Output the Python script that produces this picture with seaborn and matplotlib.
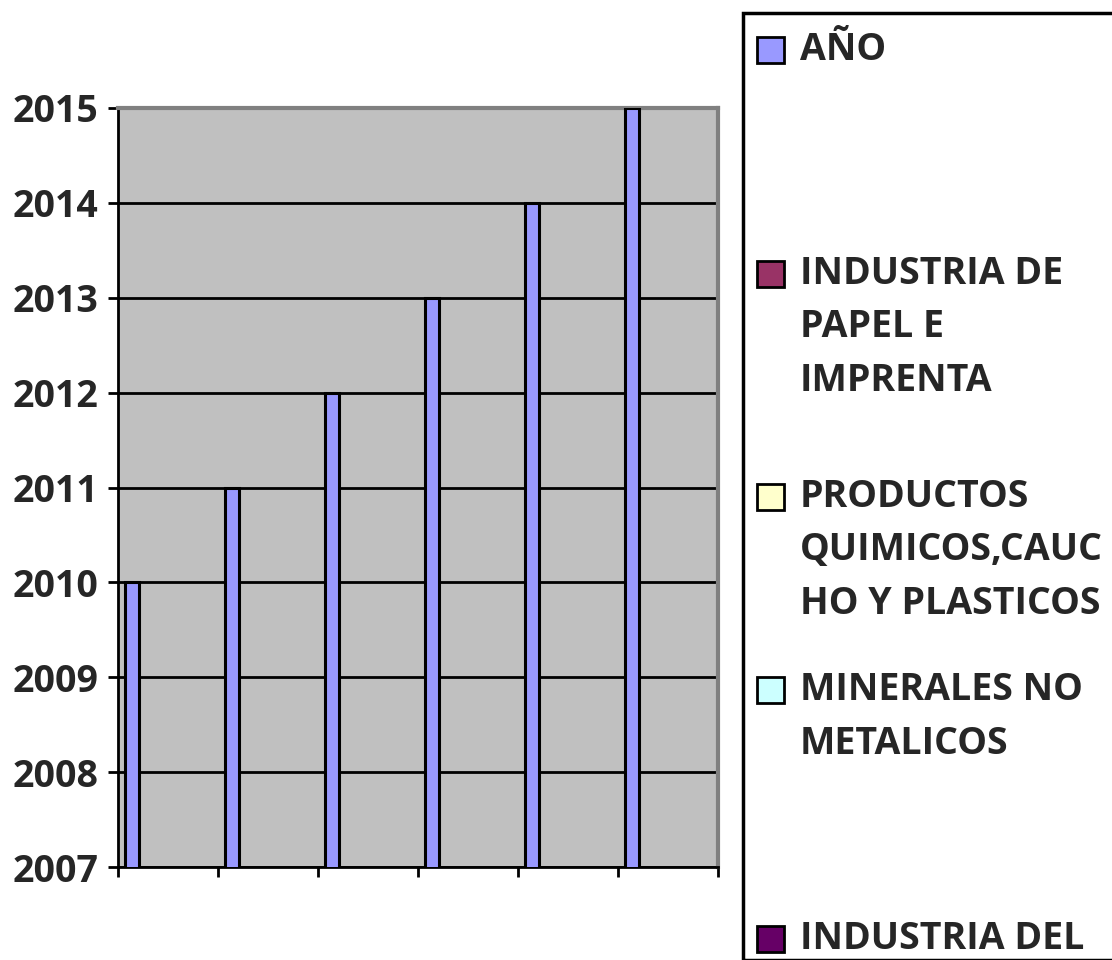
import pandas as pd
import matplotlib.pyplot as plt
import matplotlib.patches as mpatches
import seaborn as sns

# data
grupos = ['1', '2', '3', '4', '5', '6']
ano = [2010, 2011, 2012, 2013, 2014, 2015]
series = ['AÑO', 'INDUSTRIA DE\nPAPEL E\nIMPRENTA', 'PRODUCTOS\nQUIMICOS,CAUC\nHO Y PLASTICOS',
          'MINERALES NO\nMETALICOS', 'INDUSTRIA DEL', 'OTROS']
colores = ['#9999FF', '#993366', '#FFFFCC', '#CCFFFF', '#660066', '#FF8080']
y_ticks = [2007, 2008, 2009, 2010, 2011, 2012, 2013, 2014, 2015]

df = pd.DataFrame({'grupo': grupos, 'valor': ano, 'serie': series[0]})

sns.set_theme(style="white")
plt.rcParams['font.family'] = ['Open Sans', 'DejaVu Sans']
plt.rcParams['font.weight'] = 'bold'

fig = plt.figure(figsize=(11.12, 9.6), dpi=100)
ax = fig.add_axes([118 / 1112, 1 - 867 / 960, 600 / 1112, 759 / 960])
ax.set_facecolor('#C0C0C0')

# the other series are below the axis minimum, only their slots show
sns.barplot(data=df, x='grupo', y='valor', hue='serie', hue_order=series,
            palette=dict(zip(series, colores)), saturation=1, width=0.86, dodge=True,
            errorbar=None, edgecolor='black', linewidth=2.2, legend=False, ax=ax, zorder=3)

ax.set_ylim(2007, 2015)
ax.set_xlim(-0.5, 5.5)
ax.set_yticks(y_ticks)
ax.set_yticklabels([str(t) for t in y_ticks], fontsize=27, fontweight='bold')
ax.set_xticks([i - 0.5 for i in range(7)])
ax.set_xticklabels([])
ax.yaxis.grid(True, color='black', linewidth=2, zorder=1)
ax.set_axisbelow(True)
ax.tick_params(axis='both', which='both', direction='out', length=7, width=2,
               color='black', left=True, bottom=True, pad=7)
ax.set_xlabel('')
ax.set_ylabel('')
for s in ['left', 'bottom']:
    ax.spines[s].set_color('black')
    ax.spines[s].set_linewidth(2)
for s in ['top', 'right']:
    ax.spines[s].set_color('#808080')
    ax.spines[s].set_linewidth(3)

# legend box (drawn by hand to match the wrapped entries)
fig.patches.append(mpatches.Rectangle((743 / 1112, 0), 0.4, 1 - 13 / 960,
                                      transform=fig.transFigure, fill=False,
                                      edgecolor='black', linewidth=2.5))
centros = [50, 274, 497, 690, 939]
for nombre, color, yc in zip(series[:5], colores[:5], centros):
    fig.patches.append(mpatches.Rectangle((757 / 1112, 1 - (yc + 13) / 960), 27 / 1112, 26 / 960,
                                          transform=fig.transFigure, facecolor=color,
                                          edgecolor='black', linewidth=2))
    for k, linea in enumerate(nombre.split('\n')):
        fig.text(800 / 1112, 1 - (yc + k * 53.5) / 960, linea, fontsize=27,
                 fontweight='bold', va='center', ha='left')

fig.savefig('out.png', dpi=100)
